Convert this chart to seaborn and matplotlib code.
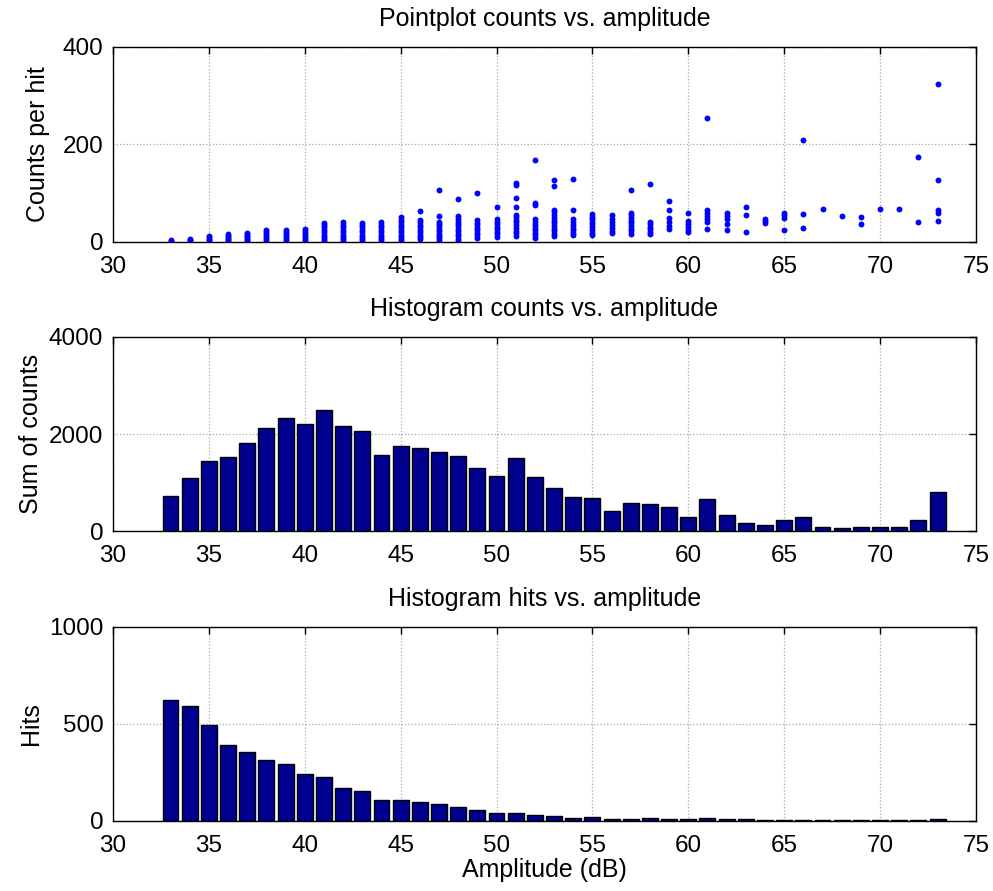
# Amplitude plots - counts and hits per dB bin
import matplotlib
matplotlib.use("Agg")
import numpy as np
import pandas as pd
import matplotlib.pyplot as plt
import seaborn as sns

# Amplitude bins (dB)
amplitude = list(range(33, 74))

# Sum of counts per amplitude bin
sum_counts = [733, 1110, 1452, 1541, 1829, 2123, 2343, 2213, 2500, 2165,
              2076, 1582, 1767, 1726, 1637, 1555, 1315, 1144, 1521, 1130,
              884, 712, 692, 411, 589, 555, 500, 308, 678, 336,
              171, 137, 226, 301, 82, 68, 96, 82, 82, 226, 822]

# Hits per amplitude bin
hits = [626, 594, 493, 392, 357, 314, 293, 244, 227, 169,
        155, 109, 109, 96, 85, 73, 58, 43, 43, 33,
        24, 17, 21, 12, 12, 14, 12, 10, 14, 10,
        8, 5, 3, 7, 3, 3, 3, 3, 3, 3, 8]

# Counts per hit, one entry per plotted point
pt_counts = {
    33: [2, 4],
    34: [2, 4, 6],
    35: [1, 4, 7, 10, 13],
    36: [1, 4, 7, 10, 13, 16],
    37: [1, 4, 7, 10, 13, 16, 19],
    38: [1, 4, 8, 12, 16, 20, 24],
    39: [1, 4, 8, 12, 16, 20, 24],
    40: [2, 6, 10, 14, 18, 22, 26],
    41: [2, 6, 10, 15, 20, 25, 30, 34, 38],
    42: [2, 6, 10, 15, 20, 25, 30, 35, 42],
    43: [2, 6, 10, 15, 20, 25, 30, 35, 38],
    44: [2, 6, 10, 15, 20, 25, 30, 35, 42],
    45: [2, 6, 10, 15, 20, 25, 30, 35, 40, 45, 51],
    46: [6, 10, 15, 20, 25, 30, 35, 40, 46, 63],
    47: [4, 8, 12, 17, 22, 27, 32, 37, 42, 53, 106],
    48: [3, 7, 12, 17, 22, 27, 32, 37, 42, 47, 53, 89],
    49: [9, 14, 19, 24, 29, 34, 39, 45, 101],
    50: [11, 16, 21, 26, 31, 36, 42, 48, 71],
    51: [13, 18, 23, 28, 34, 40, 46, 52, 56, 72, 91, 116, 120],
    52: [9, 14, 19, 24, 29, 35, 41, 47, 75, 79, 169],
    53: [12, 17, 22, 27, 32, 38, 44, 50, 56, 61, 65, 115, 128],
    54: [14, 19, 24, 29, 34, 40, 47, 66, 129],
    55: [14, 19, 24, 30, 36, 42, 48, 52, 57],
    56: [18, 23, 28, 34, 40, 47, 56],
    57: [17, 22, 27, 32, 38, 44, 50, 55, 60, 107],
    58: [16, 21, 26, 31, 36, 41, 118],
    59: [27, 33, 41, 49, 66, 85],
    60: [20, 25, 30, 36, 44, 60],
    61: [27, 41, 47, 53, 60, 66, 254],
    62: [24, 36, 48, 54, 60],
    63: [20, 55, 71],
    64: [38, 43, 48],
    65: [25, 50, 55, 60],
    66: [29, 58, 210],
    67: [67],
    68: [54],
    69: [36, 51],
    70: [68],
    71: [68],
    72: [40, 174],
    73: [44, 60, 66, 127, 325],
}

x_ticks = [30, 35, 40, 45, 50, 55, 60, 65, 70, 75]

# Build point table
pt_amp = []
pt_val = []
for amp, vals in pt_counts.items():
    for v in vals:
        pt_amp.append(amp)
        pt_val.append(v)
points = pd.DataFrame({"Amplitude": pt_amp, "Counts": pt_val})

sns.set_style("white")
plt.rcParams["font.family"] = ["Liberation Sans", "DejaVu Sans"]
plt.rcParams["text.color"] = "black"
plt.rcParams["axes.labelcolor"] = "black"
plt.rcParams["xtick.color"] = "black"
plt.rcParams["ytick.color"] = "black"

fig = plt.figure(figsize=(9.93, 8.91), dpi=100)
left = 0.1138
width = 0.869
ax1 = fig.add_axes([left, 0.7284, width, 0.2189])
ax2 = fig.add_axes([left, 0.4035, width, 0.2183])
ax3 = fig.add_axes([left, 0.0786, width, 0.2177])

bar_color = "#000090"
title_size = 18
label_size = 18

# Pointplot counts vs. amplitude
sns.scatterplot(
    data=points,
    x="Amplitude",
    y="Counts",
    color="#0000ff",
    s=18,
    linewidth=0,
    ax=ax1
)
ax1.set_ylim(0, 400)
ax1.set_yticks([0, 200, 400])
ax1.set_title("Pointplot counts vs. amplitude", fontsize=title_size, pad=15)
ax1.set_ylabel("Counts per hit", fontsize=label_size, labelpad=9)

# Histogram counts vs. amplitude
sns.histplot(
    x=amplitude,
    weights=sum_counts,
    discrete=True,
    shrink=0.83,
    color=bar_color,
    edgecolor="black",
    linewidth=1,
    alpha=1,
    ax=ax2
)
ax2.set_ylim(0, 4000)
ax2.set_yticks([0, 2000, 4000])
ax2.set_title("Histogram counts vs. amplitude", fontsize=title_size, pad=15)
ax2.set_ylabel("Sum of counts", fontsize=label_size, labelpad=4)

# Histogram hits vs. amplitude
sns.histplot(
    x=amplitude,
    weights=hits,
    discrete=True,
    shrink=0.83,
    color=bar_color,
    edgecolor="black",
    linewidth=1,
    alpha=1,
    ax=ax3
)
ax3.set_ylim(0, 1000)
ax3.set_yticks([0, 500, 1000])
ax3.set_title("Histogram hits vs. amplitude", fontsize=title_size, pad=15)
ax3.set_ylabel("Hits", fontsize=label_size, labelpad=4)
ax3.set_xlabel("Amplitude (dB)", fontsize=label_size, labelpad=1)

# MATLAB-like axes styling
for ax in [ax1, ax2, ax3]:
    ax.set_xlim(30, 75)
    ax.set_xticks(x_ticks)
    ax.set_axisbelow(True)
    ax.grid(True, linestyle=":", color="#a8a8a8", linewidth=0.9)
    ax.tick_params(direction="in", top=True, right=True, length=5,
                   width=1, labelsize=17.5)
    ax.tick_params(axis="x", pad=10)
    ax.tick_params(axis="y", pad=7)
    for sp in ax.spines.values():
        sp.set_color("black")
        sp.set_linewidth(1)
    if ax is not ax3:
        ax.set_xlabel("")

fig.savefig("out.png", dpi=100)
